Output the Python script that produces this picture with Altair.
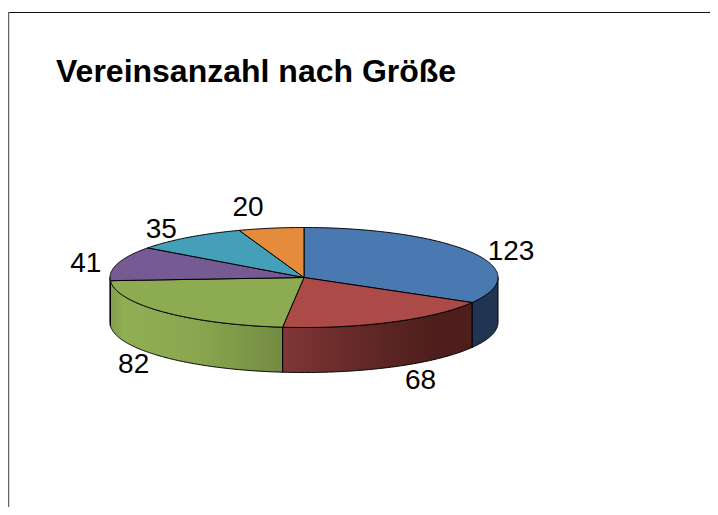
import math
import altair as alt

TITLE = "Vereinsanzahl nach Größe"
values = [123, 68, 82, 41, 35, 20]
top_colors = ["#4a78b0", "#ab4a47", "#8dac52", "#765a94", "#43a0b8", "#e58c3c"]
side_stops = [
    [(0, "#1f3552"), (1, "#1f3552")],
    [(0, "#803636"), (0.5, "#5e2624"), (0.8, "#4d1e1b"), (1, "#4d1e1b")],
    [(0, "#829e4c"), (0.08, "#90ae54"), (0.5, "#8aa74f"), (1, "#738b42")],
    [(0, "#6a5185"), (1, "#6a5185")],
]
label_dx = [39, 29, -30, -32, -27, -23]
label_dy = [-1, 14, 8, 1, -7, -20]

W, H = 702, 499
CX, CY, RX, RY, DEPTH = 296, 269.5, 194, 50, 45
total = sum(values)


def pt(deg, drop=0):
    r = math.radians(deg)
    return [CX + RX * math.sin(r), CY - RY * math.cos(r) + drop]


def arc(a, b, drop=0):
    n = max(2, int(abs(b - a) * 2))
    return [pt(a + (b - a) * i / n, drop) for i in range(n + 1)]


def feature(ring):
    ring = ring + [ring[0]]
    return {"type": "Feature", "properties": {},
            "geometry": {"type": "Polygon", "coordinates": [ring]}}


bounds = [sum(values[:i]) / total * 360 for i in range(len(values) + 1)]

layers = []
for i, stops in enumerate(side_stops):
    a, b = max(bounds[i], 90), min(bounds[i + 1], 270)
    if b <= a:
        continue
    ring = arc(a, b) + arc(b, a, DEPTH)
    fill = alt.Gradient(gradient="linear", x1=0, x2=1, y1=0, y2=0,
                        stops=[alt.GradientStop(offset=o, color=c) for o, c in stops])
    layers.append(alt.Chart(alt.Data(values=[feature(ring)]))
                  .mark_geoshape(fill=fill, stroke="#000000", strokeWidth=1))
for i, color in enumerate(top_colors):
    ring = [[CX, CY]] + arc(bounds[i], bounds[i + 1])
    layers.append(alt.Chart(alt.Data(values=[feature(ring)]))
                  .mark_geoshape(fill=color, stroke="#000000", strokeWidth=1))

rows = []
for i, v in enumerate(values):
    mid = (bounds[i] + bounds[i + 1]) / 2
    drop = DEPTH if 90 < mid < 270 else 0
    x, y = pt(mid, drop)
    rows.append({"value": str(v), "px": x + label_dx[i], "py": y + label_dy[i]})

labels = alt.Chart(alt.Data(values=rows)).mark_text(
    font="Liberation Sans", fontSize=28, color="#000000",
    align="center", baseline="middle"
).encode(
    x=alt.X("px:Q", scale=alt.Scale(domain=[0, W], range=[0, W]), axis=None),
    y=alt.Y("py:Q", scale=alt.Scale(domain=[0, H], range=[0, H]), axis=None),
    text="value:N",
)

frame_top = alt.Chart(alt.Data(values=[{}])).mark_rule(color="#111111", strokeWidth=1.2).encode(
    x=alt.value(0), x2=alt.value(W), y=alt.value(4.5))
frame_left = alt.Chart(alt.Data(values=[{}])).mark_rule(color="#666666", strokeWidth=1.5).encode(
    x=alt.value(0.5), y=alt.value(4), y2=alt.value(H))

chart = alt.layer(frame_top, frame_left, *layers, labels).project(
    type="identity", scale=1, translate=[0, 0]
).properties(
    width=W, height=H, padding=0,
    autosize=alt.AutoSizeParams(type="none"),
    title=alt.TitleParams(TITLE, anchor="start", frame="group", dx=48, dy=85,
                          font="Liberation Sans", fontSize=32, fontWeight="bold",
                          color="#000000"),
).configure_view(stroke=None)

chart.save("out.html", embed_options={"renderer": "svg", "actions": False})
